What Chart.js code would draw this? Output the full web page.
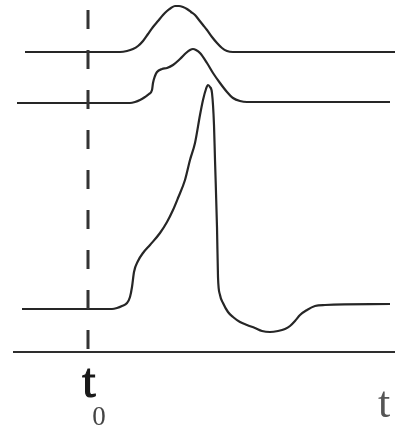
<!DOCTYPE html>
<html>
<head>
<meta charset="utf-8">
<script src="https://cdn.jsdelivr.net/npm/chart.js@4/dist/chart.umd.min.js"></script>
<style>
  html, body { margin: 0; padding: 0; background: #ffffff; }
  #wrap { width: 395px; height: 425px; position: relative; }
</style>
</head>
<body>
<div id="wrap"><canvas id="c" width="395" height="425"></canvas></div>
<script>
// ---- data (time units along x, signal level along y) ----
const t0 = 88;
const axisLevel = 73;
const axisStart = 13;
const axisEnd = 395;
const dashTop = 415;

const curve1Time = [25,115,120,127,133,138,143,148,153,158,163,167,171,175,179,183,187,191,195,199,203,207,212,217,222,227,233,260,395];
const curve1Val  = [373,373,373,374,376,379,384,391,398,404,410,414,417,419,419,418,416,413,410,405,400,395,388,382,377,374,373,373,373];

const curve2Time = [17,130,135,140,145,149,152,153,155,157,162,167,173,180,186,190,193,196,200,207,213,220,227,233,240,247,390];
const curve2Val  = [322,322,323,325,328,331,335,342,349,353,356,357,360,366,372,375,376,375,372,362,352,342,333,327,324,323,323];

const curve3Time = [22,100,112,117,122,127,130,132,134,138,143,150,160,167,173,178,185,190,195,200,203,206,208,210,212,214,215,217,218,220,223,228,233,240,247,255,262,270,278,285,290,295,300,307,315,325,390];
const curve3Val  = [116,116,116,117,119,122,128,138,153,164,172,180,192,203,215,227,245,265,282,310,325,336,340,338,332,300,265,198,148,130,122,113,108,103,100,97,94,93,94,96,99,104,110,115,119,120,121];

const labelMain = "t";
const labelSub = "0";
const labelAxis = "t";

function pts(xs, ys) { return xs.map((x, i) => ({ x: x, y: ys[i] })); }

const ink = '#262626';

const textPlugin = {
  id: 'labels',
  afterDraw(chart) {
    const ctx = chart.ctx;
    const xs = chart.scales.x;
    ctx.save();
    ctx.textBaseline = 'alphabetic';
    ctx.textAlign = 'center';
    const px = xs.getPixelForValue(t0);
    ctx.font = '48px "Liberation Serif"';
    ctx.fillStyle = '#1a1a1a';
    ctx.strokeStyle = '#1a1a1a';
    ctx.lineWidth = 1.2;
    ctx.fillText(labelMain, px + 1, 397);
    ctx.strokeText(labelMain, px + 1, 397);
    ctx.font = '27px "Liberation Serif"';
    ctx.fillStyle = '#444';
    ctx.fillText(labelSub, px + 11, 425);
    ctx.font = '44px "Liberation Serif"';
    ctx.fillStyle = '#555';
    ctx.fillText(labelAxis, 384, 417);
    ctx.restore();
  }
};

new Chart(document.getElementById('c'), {
  type: 'scatter',
  data: {
    datasets: [
      { data: pts([axisStart, axisEnd], [axisLevel, axisLevel]), showLine: true, borderColor: '#2e2e2e', borderWidth: 2, pointRadius: 0, tension: 0 },
      { data: pts([t0, t0], [dashTop, axisLevel]), showLine: true, borderColor: '#333', borderWidth: 3, borderDash: [19, 21], pointRadius: 0, tension: 0 },
      { data: pts(curve1Time, curve1Val), showLine: true, borderColor: ink, borderWidth: 2.2, pointRadius: 0, cubicInterpolationMode: 'monotone' },
      { data: pts(curve2Time, curve2Val), showLine: true, borderColor: ink, borderWidth: 2.2, pointRadius: 0, cubicInterpolationMode: 'monotone' },
      { data: pts(curve3Time, curve3Val), showLine: true, borderColor: ink, borderWidth: 2.2, pointRadius: 0, cubicInterpolationMode: 'monotone' }
    ]
  },
  options: {
    responsive: false,
    animation: false,
    layout: { padding: 0 },
    plugins: { legend: { display: false }, tooltip: { enabled: false } },
    scales: {
      x: { type: 'linear', min: 0, max: 395, display: false },
      y: { type: 'linear', min: 0, max: 425, display: false }
    }
  },
  plugins: [textPlugin]
});
</script>
</body>
</html>
